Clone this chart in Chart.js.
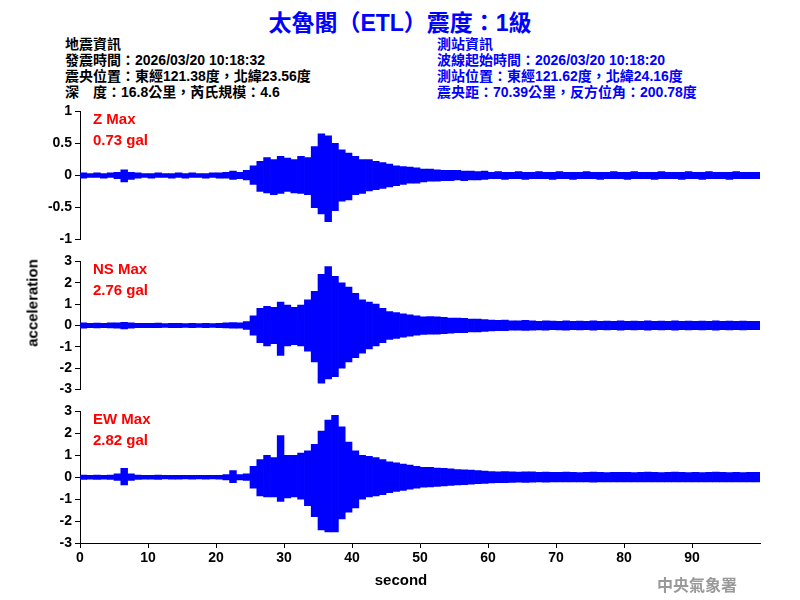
<!DOCTYPE html>
<html><head><meta charset="utf-8">
<script src="https://cdn.jsdelivr.net/npm/chart.js@4/dist/chart.umd.min.js"></script>
<style>
body{margin:0;background:#fff;width:800px;height:600px;position:relative;overflow:hidden;font-family:Arial,"Liberation Sans","Noto Sans CJK TC",sans-serif}
canvas{position:absolute;left:0}
.t{position:absolute;white-space:pre;font-weight:bold}
.info{font-size:14px;line-height:16px;font-family:"Liberation Sans","Noto Sans CJK TC",sans-serif}
.lab{color:#f00;font-size:15px;line-height:21px}
</style></head><body>
<div class="t" style="left:0;width:800px;text-align:center;top:4px;color:#0000ff;font-size:23px">太魯閣（ETL）震度：1級</div>
<div class="t info" style="left:65px;top:36px;color:#000">地震資訊
發震時間：2026/03/20 10:18:32
震央位置：東經121.38度，北緯23.56度
深　度：16.8公里，芮氏規模：4.6</div>
<div class="t info" style="left:437px;top:36px;color:#0000ff">測站資訊
波線起始時間：2026/03/20 10:18:20
測站位置：東經121.62度，北緯24.16度
震央距：70.39公里，反方位角：200.78度</div>
<canvas id="cz" width="800" height="151" style="top:100px"></canvas>
<canvas id="cns" width="800" height="151" style="top:250px"></canvas>
<canvas id="cew" width="800" height="200" style="top:400px"></canvas>
<div class="t lab" style="left:93px;top:108px">Z Max
0.73 gal</div>
<div class="t lab" style="left:93px;top:258px">NS Max
2.76 gal</div>
<div class="t lab" style="left:93px;top:408px">EW Max
2.82 gal</div>
<div class="t" style="left:32px;top:303px;font-size:15px;transform:translate(-50%,-50%) rotate(-90deg)">acceleration</div>
<div class="t" style="left:401px;top:571px;font-size:15px;transform:translateX(-50%)">second</div>
<div class="t" style="left:657px;top:572px;font-size:16px;color:#999;font-family:'Noto Sans CJK TC',serif">中央氣象署</div>
<script>
// per-second peak values (positive / negative)
const zMax = [.04,.03,.04,.03,.04, .05,.09,.05,.04,.03, .03,.04,.03,.03,.04, .03,.04,.03,.03,.04,
  .04,.05,.07,.05,.08, .15,.22,.28,.25,.30, .27,.25,.30,.28,.45, .65,.62,.50,.40,.35,
  .30,.25,.25,.22,.20, .18,.15,.14,.13,.12, .10,.10,.09,.08,.08, .08,.07,.07,.06,.07,
  .05,.06,.05,.05,.06, .05,.05,.06,.05,.05, .06,.05,.05,.05,.06, .05,.05,.05,.06,.05,
  .05,.06,.05,.05,.05, .06,.05,.05,.05,.06, .05,.05,.06,.05,.05, .05,.06,.05,.05,.05];
const zMin = [-.04,-.03,-.03,-.04,-.03, -.05,-.10,-.06,-.04,-.03, -.04,-.03,-.03,-.04,-.03, -.04,-.03,-.03,-.04,-.03,
  -.04,-.04,-.06,-.05,-.07, -.14,-.25,-.27,-.30,-.28, -.25,-.27,-.28,-.30,-.50, -.60,-.72,-.55,-.40,-.38,
  -.30,-.28,-.24,-.22,-.20, -.18,-.16,-.14,-.12,-.12, -.10,-.09,-.09,-.08,-.08, -.07,-.08,-.07,-.07,-.06,
  -.05,-.05,-.06,-.05,-.05, -.06,-.05,-.05,-.05,-.06, -.05,-.05,-.06,-.05,-.05, -.05,-.06,-.05,-.05,-.05,
  -.06,-.05,-.05,-.05,-.06, -.05,-.05,-.05,-.06,-.05, -.05,-.06,-.05,-.05,-.05, -.06,-.05,-.05,-.05,-.05];
const nsMax = [.12,.10,.11,.10,.12, .13,.15,.12,.10,.10, .10,.11,.09,.10,.10, .09,.10,.09,.10,.09,
  .10,.12,.14,.12,.18, .45,.80,.90,.85,1.10, .95,.85,.95,1.20,1.60, 2.40,2.76,2.30,2.00,1.80,
  1.50,1.20,1.10,1.00,.80, .65,.60,.55,.50,.45, .40,.42,.40,.38,.35, .35,.33,.30,.30,.28,
  .25,.24,.25,.22,.22, .24,.22,.20,.22,.21, .20,.22,.20,.21,.20, .22,.20,.21,.20,.22,
  .20,.21,.20,.22,.20, .21,.20,.22,.20,.21, .20,.21,.20,.22,.20, .21,.20,.21,.20,.20];
const nsMin = [-.12,-.10,-.11,-.10,-.11, -.12,-.16,-.12,-.10,-.10, -.10,-.10,-.09,-.10,-.10, -.09,-.10,-.09,-.10,-.09,
  -.10,-.11,-.13,-.12,-.18, -.45,-.80,-.95,-.85,-1.40, -.95,-.90,-.95,-1.20,-1.70, -2.70,-2.50,-2.40,-2.00,-1.70,
  -1.50,-1.30,-1.10,-.95,-.80, -.65,-.60,-.55,-.50,-.45, -.42,-.40,-.40,-.38,-.36, -.34,-.33,-.30,-.30,-.28,
  -.25,-.24,-.24,-.22,-.22, -.23,-.22,-.21,-.22,-.20, -.21,-.22,-.20,-.21,-.20, -.22,-.20,-.21,-.20,-.22,
  -.20,-.21,-.20,-.22,-.20, -.21,-.20,-.22,-.20,-.21, -.20,-.21,-.20,-.22,-.20, -.21,-.20,-.21,-.20,-.20];
const ewMax = [.10,.09,.10,.09,.10, .15,.40,.15,.10,.09, .09,.10,.08,.09,.09, .08,.09,.08,.09,.08,
  .09,.12,.30,.12,.15, .50,.80,1.00,.90,1.90, 1.00,1.00,1.10,1.20,1.50, 2.10,2.60,2.82,2.30,1.60,
  1.20,1.00,.95,.90,.80, .70,.65,.60,.55,.50, .45,.45,.42,.40,.38, .35,.34,.32,.30,.28,
  .26,.25,.26,.24,.23, .25,.24,.22,.23,.22, .22,.23,.22,.21,.22, .23,.22,.21,.22,.22,
  .22,.21,.22,.23,.22, .21,.22,.23,.22,.21, .22,.21,.22,.23,.22, .21,.22,.21,.22,.22];
const ewMin = [-.10,-.09,-.10,-.09,-.10, -.15,-.35,-.15,-.10,-.09, -.09,-.10,-.08,-.09,-.09, -.08,-.09,-.08,-.09,-.08,
  -.09,-.12,-.25,-.12,-.15, -.50,-.85,-.90,-.90,-1.10, -.95,-.90,-1.00,-1.30,-1.80, -2.40,-2.50,-2.50,-1.90,-1.60,
  -1.40,-1.00,-.90,-.85,-.80, -.70,-.65,-.60,-.55,-.50, -.45,-.44,-.42,-.40,-.38, -.35,-.34,-.32,-.30,-.28,
  -.26,-.25,-.25,-.24,-.23, -.24,-.23,-.22,-.23,-.22, -.22,-.22,-.21,-.22,-.22, -.23,-.22,-.21,-.22,-.22,
  -.22,-.21,-.22,-.22,-.22, -.21,-.22,-.22,-.22,-.21, -.22,-.21,-.22,-.22,-.22, -.21,-.22,-.21,-.22,-.22];
const xTicks = [0,10,20,30,40,50,60,70,80,90];

// each second drawn as a floating bar from its negative to its positive peak
function trace(maxs, mins) {
  return maxs.map((v, i) => ({x: i + 0.5, y: [mins[i], v]}));
}

const font = {family: 'Arial', size: 14, weight: 'bold'};

function panel(id, maxs, mins, lim, step, showX) {
  new Chart(document.getElementById(id), {
    type: 'bar',
    data: {datasets: [{data: trace(maxs, mins), backgroundColor: '#0000ff', borderWidth: 0,
      barPercentage: 1, categoryPercentage: 1}]},
    options: {
      responsive: false, animation: false,
      layout: {padding: {top: 8, bottom: showX ? 0 : 8, right: 40, left: 0}},
      plugins: {legend: {display: false}, tooltip: {enabled: false}},
      scales: {
        x: {
          type: 'linear', min: 0, max: 100, display: showX, offset: false,
          afterFit: s => { if (showX) s.height = 57; },
          afterBuildTicks: s => { s.ticks = xTicks.map(v => ({value: v})); },
          grid: {display: true, drawOnChartArea: false, tickLength: 5, color: '#000', offset: false},
          border: {color: '#000', width: 1},
          ticks: {color: '#000', font: font, maxRotation: 0, padding: 2}
        },
        y: {
          min: -lim, max: lim,
          afterFit: s => { s.width = 80; },
          grid: {display: true, drawOnChartArea: false, tickLength: 5, color: '#000'},
          border: {color: '#000', width: 1},
          ticks: {stepSize: step, autoSkip: false, color: '#000', font: font, padding: 3,
            callback: v => String(v)}
        }
      }
    }
  });
}

panel('cz', zMax, zMin, 1, 0.5, false);
panel('cns', nsMax, nsMin, 3, 1, false);
panel('cew', ewMax, ewMin, 3, 1, true);
</script>
</body></html>
